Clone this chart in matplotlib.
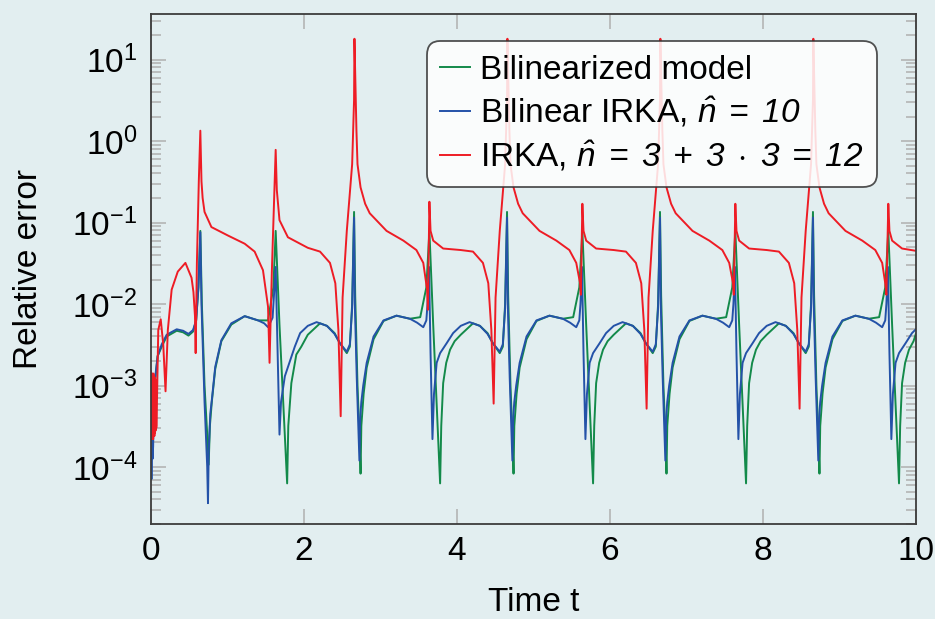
import matplotlib
matplotlib.use("Agg")
import matplotlib.pyplot as plt
from matplotlib.ticker import LogLocator, NullFormatter

# ---- data (time, relative error) ----
t_green = [
    0.000, 0.010, 0.022, 0.035, 0.052, 0.087, 0.14, 0.205, 0.336, 0.42, 0.49, 0.55,
    0.59, 0.62, 0.645, 0.665, 0.70, 0.735, 0.754, 0.77, 0.795, 0.84, 0.92, 1.05,
    1.225, 1.40, 1.53, 1.60, 1.63, 1.68, 1.73, 1.78, 1.795, 1.835, 1.90, 1.965,
    2.05, 2.21, 2.30, 2.40, 2.47, 2.56, 2.60, 2.63, 2.655, 2.67, 2.70, 2.725, 2.74,
    2.75, 2.78, 2.82, 2.91, 3.04, 3.21, 3.385, 3.52, 3.60, 3.64, 3.69, 3.735, 3.78,
    3.795, 3.82, 3.86, 3.91, 3.97,
    4.05, 4.21, 4.30, 4.40, 4.47, 4.56, 4.60, 4.63, 4.655, 4.67, 4.70, 4.725, 4.74,
    4.75, 4.78, 4.82, 4.91, 5.04, 5.21, 5.385, 5.52, 5.60, 5.64, 5.69, 5.735, 5.78,
    5.795, 5.82, 5.86, 5.91, 5.97,
    6.05, 6.21, 6.30, 6.40, 6.47, 6.56, 6.60, 6.63, 6.655, 6.67, 6.70, 6.725, 6.74,
    6.75, 6.78, 6.82, 6.91, 7.04, 7.21, 7.385, 7.52, 7.60, 7.64, 7.69, 7.735, 7.78,
    7.795, 7.82, 7.86, 7.91, 7.97,
    8.05, 8.21, 8.30, 8.40, 8.47, 8.56, 8.60, 8.63, 8.655, 8.67, 8.70, 8.725, 8.74,
    8.75, 8.78, 8.82, 8.91, 9.04, 9.21, 9.385, 9.52, 9.60, 9.64, 9.69, 9.735, 9.78,
    9.795, 9.82, 9.86, 9.91, 9.97, 10.0,
]
err_green = [
    1.0e-3, 1.26e-4, 2.5e-4, 5.0e-4, 1.1e-3, 2.3e-3, 3.0e-3, 4.0e-3, 4.7e-3, 4.5e-3, 4.1e-3, 4.6e-3,
    6.3e-3, 1.6e-2, 7.9e-2, 1.0e-2, 1.0e-3, 2.5e-4, 1.07e-4, 3.2e-4, 6.3e-4, 1.6e-3, 3.5e-3, 5.6e-3,
    7.1e-3, 6.3e-3, 6.3e-3, 1.6e-2, 7.9e-2, 5.5e-3, 5.9e-4, 6.3e-5, 3.2e-4, 1.07e-3, 2.4e-3, 3.0e-3,
    4.2e-3, 5.8e-3, 5.4e-3, 4.4e-3, 3.3e-3, 2.5e-3, 3.0e-3, 1.0e-2, 0.135, 1.26e-2, 1.0e-3, 2.5e-4, 8.3e-5,
    3.2e-4, 7.9e-4, 1.66e-3, 3.7e-3, 6.2e-3, 7.2e-3, 6.6e-3, 6.9e-3, 1.6e-2, 7.9e-2, 5.5e-3, 5.9e-4, 6.3e-5,
    3.2e-4, 1.07e-3, 1.9e-3, 2.75e-3, 3.5e-3,
    4.2e-3, 5.8e-3, 5.4e-3, 4.4e-3, 3.3e-3, 2.5e-3, 3.0e-3, 1.0e-2, 0.135, 1.26e-2, 1.0e-3, 2.5e-4, 8.3e-5,
    3.2e-4, 7.9e-4, 1.66e-3, 3.7e-3, 6.2e-3, 7.2e-3, 6.6e-3, 6.9e-3, 1.6e-2, 7.9e-2, 5.5e-3, 5.9e-4, 6.3e-5,
    3.2e-4, 1.07e-3, 1.9e-3, 2.75e-3, 3.5e-3,
    4.2e-3, 5.8e-3, 5.4e-3, 4.4e-3, 3.3e-3, 2.5e-3, 3.0e-3, 1.0e-2, 0.135, 1.26e-2, 1.0e-3, 2.5e-4, 8.3e-5,
    3.2e-4, 7.9e-4, 1.66e-3, 3.7e-3, 6.2e-3, 7.2e-3, 6.6e-3, 6.9e-3, 1.6e-2, 7.9e-2, 5.5e-3, 5.9e-4, 6.3e-5,
    3.2e-4, 1.07e-3, 1.9e-3, 2.75e-3, 3.5e-3,
    4.2e-3, 5.8e-3, 5.4e-3, 4.4e-3, 3.3e-3, 2.5e-3, 3.0e-3, 1.0e-2, 0.135, 1.26e-2, 1.0e-3, 2.5e-4, 8.3e-5,
    3.2e-4, 7.9e-4, 1.66e-3, 3.7e-3, 6.2e-3, 7.2e-3, 6.6e-3, 6.9e-3, 1.6e-2, 7.9e-2, 5.5e-3, 5.9e-4, 6.3e-5,
    3.2e-4, 1.07e-3, 1.9e-3, 2.75e-3, 3.5e-3, 4.3e-3,
]

t_blue = [
    0.000, 0.006, 0.012, 0.020, 0.028, 0.035, 0.052, 0.087, 0.14, 0.205, 0.336, 0.42,
    0.49, 0.55, 0.59, 0.62, 0.645, 0.66, 0.70, 0.735, 0.745, 0.755, 0.775, 0.795,
    0.84, 0.92, 1.05, 1.225, 1.40, 1.48, 1.53, 1.59, 1.63, 1.655, 1.68, 1.70, 1.75,
    1.88, 1.95,
    2.05, 2.165, 2.30, 2.40, 2.47, 2.56, 2.60, 2.63, 2.655, 2.665, 2.69, 2.715, 2.725,
    2.735, 2.75, 2.775, 2.82, 2.91, 3.04, 3.21, 3.385, 3.48, 3.56, 3.60, 3.615, 3.635,
    3.655, 3.68, 3.70, 3.735, 3.78, 3.865, 3.95,
    4.05, 4.165, 4.30, 4.40, 4.47, 4.56, 4.60, 4.63, 4.655, 4.665, 4.69, 4.715, 4.725,
    4.735, 4.75, 4.775, 4.82, 4.91, 5.04, 5.21, 5.385, 5.48, 5.56, 5.60, 5.615, 5.635,
    5.655, 5.68, 5.70, 5.735, 5.78, 5.865, 5.95,
    6.05, 6.165, 6.30, 6.40, 6.47, 6.56, 6.60, 6.63, 6.655, 6.665, 6.69, 6.715, 6.725,
    6.735, 6.75, 6.775, 6.82, 6.91, 7.04, 7.21, 7.385, 7.48, 7.56, 7.60, 7.615, 7.635,
    7.655, 7.68, 7.70, 7.735, 7.78, 7.865, 7.95,
    8.05, 8.165, 8.30, 8.40, 8.47, 8.56, 8.60, 8.63, 8.655, 8.665, 8.69, 8.715, 8.725,
    8.735, 8.75, 8.775, 8.82, 8.91, 9.04, 9.21, 9.385, 9.48, 9.56, 9.60, 9.615, 9.635,
    9.655, 9.68, 9.70, 9.735, 9.78, 9.865, 9.95, 10.0,
]
err_blue = [
    1.4e-3, 7.1e-5, 5.0e-4, 1.26e-4, 1.8e-4, 5.0e-4, 1.2e-3, 2.3e-3, 3.2e-3, 4.2e-3, 4.9e-3, 4.7e-3,
    4.3e-3, 4.8e-3, 6.3e-3, 1.6e-2, 7.6e-2, 1.0e-2, 6.3e-4, 1.0e-4, 3.6e-5, 1.6e-4, 4.5e-4, 6.6e-4,
    1.7e-3, 3.6e-3, 5.8e-3, 7.1e-3, 6.3e-3, 5.8e-3, 5.2e-3, 6.8e-3, 2.85e-2, 2.5e-3, 2.5e-4, 6.3e-4, 1.3e-3,
    3.0e-3, 4.4e-3,
    5.4e-3, 6.0e-3, 5.4e-3, 4.3e-3, 3.3e-3, 2.6e-3, 3.2e-3, 8.9e-3, 0.115, 1.0e-2, 1.26e-3, 2.5e-4, 1.2e-4,
    4.0e-4, 6.3e-4, 1.0e-3, 1.9e-3, 4.0e-3, 6.3e-3, 7.2e-3, 6.6e-3, 5.9e-3, 5.2e-3, 6.3e-3, 1.0e-2, 2.85e-2,
    2.5e-3, 2.2e-4, 7.9e-4, 1.9e-3, 2.5e-3, 3.3e-3, 4.4e-3,
    5.4e-3, 6.0e-3, 5.4e-3, 4.3e-3, 3.3e-3, 2.6e-3, 3.2e-3, 8.9e-3, 0.115, 1.0e-2, 1.26e-3, 2.5e-4, 1.2e-4,
    4.0e-4, 6.3e-4, 1.0e-3, 1.9e-3, 4.0e-3, 6.3e-3, 7.2e-3, 6.6e-3, 5.9e-3, 5.2e-3, 6.3e-3, 1.0e-2, 2.85e-2,
    2.5e-3, 2.2e-4, 7.9e-4, 1.9e-3, 2.5e-3, 3.3e-3, 4.4e-3,
    5.4e-3, 6.0e-3, 5.4e-3, 4.3e-3, 3.3e-3, 2.6e-3, 3.2e-3, 8.9e-3, 0.115, 1.0e-2, 1.26e-3, 2.5e-4, 1.2e-4,
    4.0e-4, 6.3e-4, 1.0e-3, 1.9e-3, 4.0e-3, 6.3e-3, 7.2e-3, 6.6e-3, 5.9e-3, 5.2e-3, 6.3e-3, 1.0e-2, 2.85e-2,
    2.5e-3, 2.2e-4, 7.9e-4, 1.9e-3, 2.5e-3, 3.3e-3, 4.4e-3,
    5.4e-3, 6.0e-3, 5.4e-3, 4.3e-3, 3.3e-3, 2.6e-3, 3.2e-3, 8.9e-3, 0.115, 1.0e-2, 1.26e-3, 2.5e-4, 1.2e-4,
    4.0e-4, 6.3e-4, 1.0e-3, 1.9e-3, 4.0e-3, 6.3e-3, 7.2e-3, 6.6e-3, 5.9e-3, 5.2e-3, 6.3e-3, 1.0e-2, 2.85e-2,
    2.5e-3, 2.2e-4, 7.9e-4, 1.9e-3, 2.5e-3, 3.3e-3, 4.4e-3, 4.9e-3,
]

t_red = [
    0.000, 0.004, 0.008, 0.012, 0.016, 0.020, 0.024, 0.028, 0.032, 0.036, 0.040, 0.044,
    0.048, 0.052, 0.056, 0.060, 0.064, 0.068, 0.072, 0.095, 0.127,
    0.16, 0.19, 0.22, 0.27, 0.35, 0.45, 0.53, 0.555, 0.575, 0.584, 0.60, 0.625, 0.645,
    0.66, 0.675, 0.70, 0.79, 1.01, 1.225, 1.355, 1.464, 1.53, 1.55, 1.58, 1.61, 1.63,
    1.645, 1.68, 1.79,
    2.05, 2.21, 2.34, 2.41, 2.45, 2.48, 2.505, 2.56, 2.63, 2.655, 2.66, 2.686, 2.70,
    2.74, 2.80, 2.86, 3.08, 3.30, 3.47, 3.56, 3.61, 3.62, 3.64, 3.655, 3.69, 3.82,
    4.05, 4.21, 4.34, 4.41, 4.45, 4.48, 4.505, 4.56, 4.63, 4.655, 4.66, 4.686, 4.70,
    4.74, 4.80, 4.86, 5.08, 5.30, 5.47, 5.56, 5.61, 5.62, 5.64, 5.655, 5.69, 5.82,
    6.05, 6.21, 6.34, 6.41, 6.45, 6.48, 6.505, 6.56, 6.63, 6.655, 6.66, 6.686, 6.70,
    6.74, 6.80, 6.86, 7.08, 7.30, 7.47, 7.56, 7.61, 7.62, 7.64, 7.655, 7.69, 7.82,
    8.05, 8.21, 8.34, 8.41, 8.45, 8.48, 8.505, 8.56, 8.63, 8.655, 8.66, 8.686, 8.70,
    8.74, 8.80, 8.86, 9.08, 9.30, 9.47, 9.56, 9.60, 9.615, 9.64, 9.655, 9.69, 9.82,
    10.0,
]
err_red = [
    1.5e-3, 2.5e-4, 1.3e-3, 2.2e-4, 1.4e-3, 2.3e-4, 1.4e-3, 2.2e-4, 1.4e-3, 2.5e-4, 1.3e-3, 2.4e-4,
    1.26e-3, 2.6e-4, 1.2e-3, 2.8e-4, 1.1e-3, 3.0e-4, 3.2e-4, 4.8e-3, 6.5e-3,
    3.2e-3, 8.5e-4, 4.8e-3, 1.5e-2, 2.5e-2, 3.2e-2, 2.1e-2, 1.4e-2, 7.1e-3, 2.5e-3, 3.2e-2, 0.32, 1.34,
    0.32, 0.2, 0.135, 8.8e-2, 6.9e-2, 5.5e-2, 4.4e-2, 2.6e-2, 9.3e-3, 1.9e-3, 2.5e-2, 0.2, 0.78,
    0.25, 0.107, 6.6e-2,
    4.9e-2, 4.4e-2, 3.2e-2, 1.8e-2, 4.8e-3, 4.2e-4, 1.2e-2, 7.9e-2, 0.52, 3.2, 18.0, 1.35, 0.52,
    0.27, 0.17, 0.13, 7.9e-2, 6.0e-2, 4.6e-2, 3.2e-2, 1.5e-2, 8.5e-3, 0.18, 7.9e-2, 6.0e-2, 4.8e-2,
    4.6e-2, 4.4e-2, 3.2e-2, 1.8e-2, 4.8e-3, 6.0e-4, 1.2e-2, 7.9e-2, 0.52, 3.2, 18.0, 1.35, 0.52,
    0.27, 0.17, 0.13, 7.9e-2, 6.0e-2, 4.6e-2, 3.2e-2, 1.8e-2, 1.3e-2, 0.17, 7.9e-2, 6.0e-2, 4.8e-2,
    4.6e-2, 4.4e-2, 3.2e-2, 1.8e-2, 4.8e-3, 5.2e-4, 1.2e-2, 7.9e-2, 0.52, 3.2, 18.0, 1.35, 0.52,
    0.27, 0.17, 0.13, 7.9e-2, 6.0e-2, 4.6e-2, 3.2e-2, 1.8e-2, 1.3e-2, 0.17, 7.9e-2, 6.0e-2, 4.8e-2,
    4.6e-2, 4.4e-2, 3.2e-2, 1.8e-2, 4.8e-3, 5.2e-4, 1.2e-2, 7.9e-2, 0.52, 3.2, 18.0, 1.35, 0.52,
    0.27, 0.17, 0.13, 7.9e-2, 6.0e-2, 4.6e-2, 3.2e-2, 1.8e-2, 1.3e-2, 0.17, 7.9e-2, 6.0e-2, 4.8e-2,
    4.5e-2,
]

labels = [
    "Bilinearized model",
    r"Bilinear IRKA, $\hat{n}\;=\;10$",
    r"IRKA, $\hat{n}\;=\;3\;+\;3\;\cdot\;3\;=\;12$",
]
x_ticks = [0, 2, 4, 6, 8, 10]
y_ticks = [1e-4, 1e-3, 1e-2, 1e-1, 1e0, 1e1]

# ---- style ----
plt.rcParams["font.family"] = ["Liberation Sans", "DejaVu Sans"]
# math parts of the legend are set in italic sans, digits included
plt.rcParams["mathtext.fontset"] = "custom"
plt.rcParams["mathtext.rm"] = "Liberation Sans:italic"
plt.rcParams["mathtext.it"] = "Liberation Sans:italic"
plt.rcParams["mathtext.bf"] = "Liberation Sans:bold"
plt.rcParams["font.size"] = 24

bg = "#e2eef0"
tick_grey = "#b0b0b0"
spine_col = "#3c3c3c"

fig = plt.figure(figsize=(9.35, 6.19), dpi=100, facecolor=bg)
ax = fig.add_axes([0.1615, 0.1535, 0.818, 0.8235])
ax.set_facecolor(bg)

ax.plot(t_green, err_green, color="#138a4a", lw=1.4, label=labels[0])
ax.plot(t_blue, err_blue, color="#2452a8", lw=1.4, label=labels[1])
ax.plot(t_red, err_red, color="#ee1c25", lw=1.4, label=labels[2])

ax.set_yscale("log")
ax.set_xlim(0, 10)
ax.set_ylim(2.0e-5, 36)
ax.set_xticks(x_ticks)
ax.set_yticks(y_ticks)
ax.yaxis.set_minor_locator(LogLocator(base=10, subs=range(2, 10), numticks=20))
ax.yaxis.set_minor_formatter(NullFormatter())

ax.tick_params(which="both", direction="in", top=True, right=True,
               color=tick_grey, width=1.1)
ax.tick_params(which="major", length=11)
ax.tick_params(which="minor", length=7)
ax.tick_params(axis="y", pad=10)
ax.tick_params(axis="x", pad=9)
for s in ax.spines.values():
    s.set_color(spine_col)
    s.set_linewidth(1.3)

ax.set_xlabel("Time t", labelpad=14)
ax.set_ylabel("Relative error", labelpad=20)

leg = ax.legend(loc="upper right", bbox_to_anchor=(0.949, 0.947), borderaxespad=0,
                fancybox=True, framealpha=0.85, edgecolor="#333333", facecolor="white",
                handlelength=0.9, handletextpad=0.3, labelspacing=0.28, borderpad=0.4)
leg.get_frame().set_linewidth(1.3)
leg.get_frame().set_boxstyle("round,pad=0,rounding_size=0.4")

fig.savefig("out.png", dpi=100, facecolor=bg)
